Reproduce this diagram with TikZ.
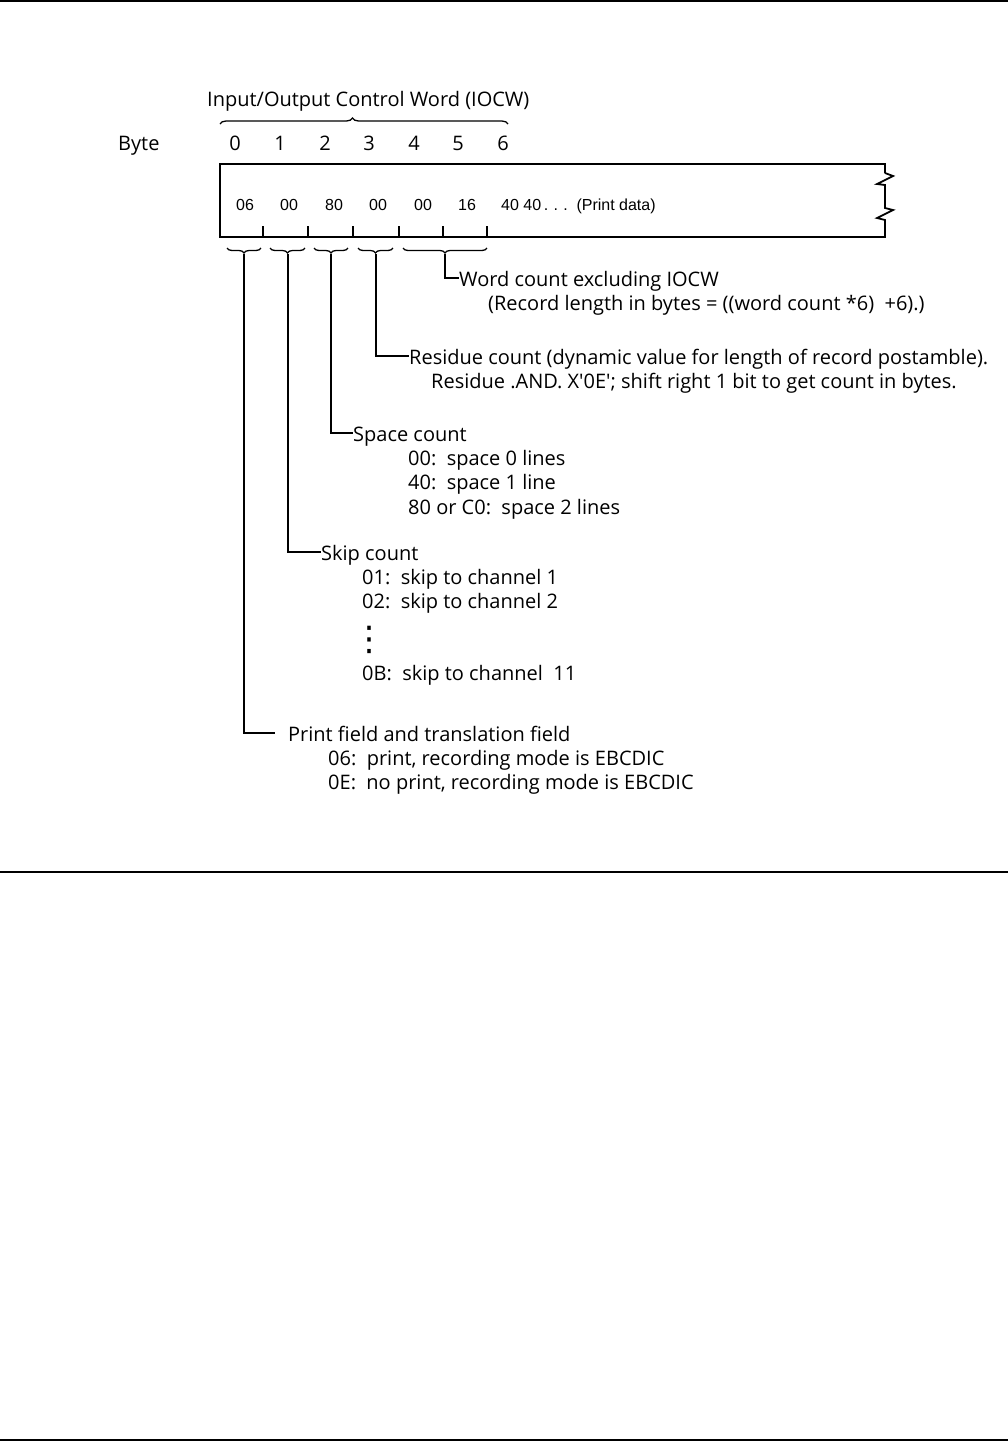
\documentclass[tikz,border=0pt]{standalone}
\usepackage{fontspec}
\setmainfont{Open Sans}
\newfontfamily\boxfont{Liberation Sans}
\newfontfamily\symfont{DejaVu Sans}
\usetikzlibrary{decorations.pathreplacing}
\begin{document}
\begin{tikzpicture}[x=1pt,y=-1pt,
  lbl/.style={anchor=base west,inner sep=0pt,font=\fontsize{20}{23}\selectfont},
  num/.style={anchor=base,inner sep=0pt,font=\fontsize{20}{23}\selectfont},
  boxtxt/.style={anchor=base,inner sep=0pt,font=\boxfont\fontsize{16}{18}\selectfont},
  rule/.style={line width=1.6pt},
  outline/.style={line width=1.8pt,line join=miter},
  tick/.style={line width=1.2pt},
  lead/.style={line width=1.2pt},
  lowbrace/.style={decorate,decoration={brace,amplitude=5pt,mirror},line width=1.3pt},
  topbrace/.style={decorate,decoration={brace,amplitude=6pt,aspect=0.46},line width=1.3pt}]
\useasboundingbox (0,0) rectangle (1008,1441);
% page rules
\draw[rule] (0,1) -- (1008,1);
\draw[rule] (0,872) -- (1008,872);
\draw[rule] (0,1440) -- (1008,1440);
% title and brace
\node[lbl] (title) at (207,106) {Input/Output Control Word (IOCW)};
\draw[topbrace] (220,124) -- (508,124);
% byte numbers
\node[lbl] (byte) at (118,150) {Byte};
\foreach \i/\x in {0/235,1/280,2/325,3/369,4/414,5/458,6/503}
  \node[num] (n\i) at (\x,150) {\i};
% record box
\draw[outline] (885,173) -- (885,164) -- (220,164) -- (220,237) -- (885,237)
  -- (885,220) -- (877,218) -- (893,210) -- (885,208) -- (885,185)
  -- (877,184) -- (893,176) -- (885,173);
\foreach \x in {263,308,353,399,443,487}
  \draw[tick] (\x,226) -- (\x,237);
\foreach \i/\x/\t in {0/245/06,1/289/00,2/334/80,3/378/00,4/423/00,5/467/16}
  \node[boxtxt] (v\i) at (\x,210) {\t};
\node[boxtxt,anchor=base west] (pd) at (501,210) {40 40\,.\,\,.\,\,.\, (Print data)};
% lower braces
\draw[lowbrace] (227,248) -- (261,248);
\draw[lowbrace] (270,248) -- (305,248);
\draw[lowbrace] (314,248) -- (348,248);
\draw[lowbrace] (358,248) -- (393,248);
\draw[lowbrace] (403,248) -- (487,248);
\coordinate (t1) at (244,254);
\coordinate (t2) at (288,254);
\coordinate (t3) at (331,254);
\coordinate (t4) at (376,254);
\coordinate (t5) at (445,254);
% word count
\node[lbl] (wc) at (459,286) {Word count excluding IOCW};
\node[lbl] (wc2) at (488,310) {(Record length in bytes = ((word count *6)\ \ +6).)};
\draw[lead] (t5) |- ([yshift=8pt]wc.base west);
% residue
\node[lbl] (rc) at (409,364) {Residue count (dynamic value for length of record postamble).};
\node[lbl] (rc2) at (431,388) {Residue .AND. X\textquotesingle0E\textquotesingle; shift right 1 bit to get count in bytes.};
\draw[lead] (t4) |- ([yshift=8pt]rc.base west);
% space count
\node[lbl] (sc) at (353,441) {Space count};
\node[lbl] (sc1) at (408,465) {00:\ \ space 0 lines};
\node[lbl] (sc2) at (408,489) {40:\ \ space 1 line};
\node[lbl] (sc3) at (408,514) {80 or C0:\ \ space 2 lines};
\draw[lead] (t3) |- ([yshift=8pt]sc.base west);
% skip count
\node[lbl] (kc) at (321,560) {Skip count};
\node[lbl] (kc1) at (362,584) {01:\ \ skip to channel 1};
\node[lbl] (kc2) at (362,608) {02:\ \ skip to channel 2};
\node[inner sep=0pt,font=\symfont\fontsize{34}{36}\selectfont] (dots) at (369,640) {⋮};
\node[lbl] (kc3) at (362,680) {0B:\ \ skip to channel\ \ 11};
\draw[lead] (t2) |- ([yshift=8pt]kc.base west);
% print field
\node[lbl] (pf) at (288,741) {Print field and translation field};
\node[lbl] (pf1) at (328,765) {06:\ \ print, recording mode is EBCDIC};
\node[lbl] (pf2) at (328,789) {0E:\ \ no print, recording mode is EBCDIC};
\coordinate (pfend) at (275,733);
\draw[lead] (t1) |- (pfend);
\end{tikzpicture}
\end{document}
